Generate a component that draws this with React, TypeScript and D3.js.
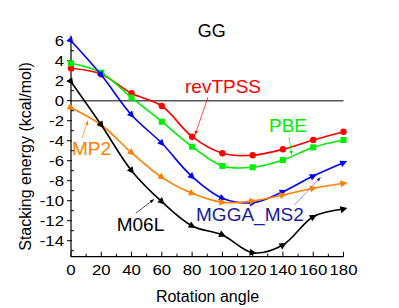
import React from "react";
import * as d3 from "d3";

const angles = [0, 20, 40, 60, 80, 100, 120, 140, 160, 180];
const revTPSS = [3.24, 2.65, 0.74, -0.53, -3.6, -5.26, -5.46, -4.86, -3.93, -3.1];
const PBE = [3.74, 2.8, 0.3, -2.1, -4.6, -6.53, -6.66, -5.93, -4.66, -3.93];
const MGGA_MS2 = [6.0, 2.57, -1.43, -4.26, -7.6, -9.76, -10.2, -9.1, -7.53, -6.2];
const MP2 = [-0.7, -2.43, -5.2, -7.66, -9.26, -10.16, -10.03, -9.43, -8.76, -8.26];
const M06L = [1.9, -2.43, -7.0, -10.1, -12.53, -13.43, -15.2, -14.43, -11.6, -10.83];

const xTicks = [0, 20, 40, 60, 80, 100, 120, 140, 160, 180];
const yTicks = [6, 4, 2, 0, -2, -4, -6, -8, -10, -12, -14];

const series = [
  { name: "revTPSS", values: revTPSS, color: "#ff0000", marker: "circle" },
  { name: "PBE", values: PBE, color: "#00ee00", marker: "square" },
  { name: "MGGA_MS2", values: MGGA_MS2, color: "#0000ff", marker: "tri" },
  { name: "MP2", values: MP2, color: "#ff8000", marker: "tri" },
  { name: "M06L", values: M06L, color: "#000000", marker: "tri" },
];

// label text in data units, arrow from -> to
const labels = [
  { text: "revTPSS", x: 75.3, y: 0.77, color: "#ff0000", ax1: 90.5, ay1: 0.37, ax2: 81.9, ay2: -3.43 },
  { text: "PBE", x: 130.8, y: -3.1, color: "#00ee00", ax1: 144, ay1: -3.63, ax2: 145.8, ay2: -5.43 },
  { text: "MP2", x: 0.6, y: -5.43, color: "#ff8000", ax1: 7.3, ay1: -3.73, ax2: 11.2, ay2: -2.0 },
  { text: "M06L", x: 30.2, y: -13.03, color: "#000000", ax1: 42.7, ay1: -11.26, ax2: 54.8, ay2: -9.86 },
  { text: "MGGA_MS2", x: 82.6, y: -12.03, color: "#1a1aa0", ax1: 147.5, ay1: -10.43, ax2: 164.9, ay2: -7.66 },
];

const W = 399;
const H = 308;

export default function App() {
  const x = d3.scaleLinear().domain([0, 180]).range([71, 343.5]);
  const y = d3.scaleLinear().domain([-15.6, 6.5]).range([256.7, 35.7]);
  const line = d3
    .line<number>()
    .x((_, i) => x(angles[i]))
    .y((d) => y(d))
    .curve(d3.curveCatmullRom.alpha(0.5));

  const font = "Liberation Sans, Arial, sans-serif";
  const minorX = d3.range(0, 181, 10);
  const minorY = d3.range(-15, 7, 1);

  const marker = (s: any, v: number, i: number) => {
    const cx = x(angles[i]);
    const cy = y(v);
    if (s.marker === "circle") return <circle key={i} cx={cx} cy={cy} r={3.2} fill={s.color} />;
    if (s.marker === "square") return <rect key={i} x={cx - 3} y={cy - 3} width={6} height={6} fill={s.color} />;
    // arrow-like triangle pointing along the curve
    const i0 = Math.max(0, i - 1);
    const i1 = Math.min(angles.length - 1, i + 1);
    const dx = x(angles[i1]) - x(angles[i0]);
    const dy = y(s.values[i1]) - y(s.values[i0]);
    const ang = (Math.atan2(dy, dx) * 180) / Math.PI;
    return (
      <path
        key={i}
        d="M4,0 L-3,-3.5 L-3,3.5 Z"
        fill={s.color}
        transform={`translate(${cx},${cy}) rotate(${ang})`}
      />
    );
  };

  return (
    <svg width={W} height={H} style={{ position: "absolute", left: 0, top: 0, background: "#fff" }}>
      <defs>
        {labels.map((l, i) => (
          <marker key={i} id={`ah${i}`} viewBox="0 0 10 10" refX={10} refY={5} markerWidth={6} markerHeight={6} orient="auto">
            <path d="M0,1 L10,5 L0,9 Z" fill={l.color} />
          </marker>
        ))}
      </defs>

      {/* zero line */}
      <line x1={x(0)} x2={x(180)} y1={y(0)} y2={y(0)} stroke="#555" strokeWidth={1.5} />

      {/* axes */}
      <line x1={x(0)} x2={x(180)} y1={y(-15.6)} y2={y(-15.6)} stroke="#000" strokeWidth={1.2} />
      <line x1={x(0)} x2={x(0)} y1={y(-15.6)} y2={y(6.5)} stroke="#000" strokeWidth={1.2} />
      {minorX.map((t) => (
        <line key={"mx" + t} x1={x(t)} x2={x(t)} y1={y(-15.6)} y2={y(-15.6) - (t % 20 === 0 ? 5 : 3)} stroke="#000" />
      ))}
      {minorY.map((t) => (
        <line key={"my" + t} x1={x(0) - (t % 2 === 0 ? 4 : 0)} x2={x(0) + (t % 2 === 0 ? 1 : 3)} y1={y(t)} y2={y(t)} stroke="#000" />
      ))}
      {xTicks.map((t) => (
        <text
          key={"xt" + t}
          transform={`translate(${x(t)},${275}) scale(1.2,1)`}
          textAnchor="middle"
          fontFamily={font}
          fontSize={14}
        >
          {t}
        </text>
      ))}
      {yTicks.map((t) => (
        <text
          key={"yt" + t}
          transform={`translate(${64},${y(t) + 5}) scale(1.2,1)`}
          textAnchor="end"
          fontFamily={font}
          fontSize={14}
        >
          {t}
        </text>
      ))}
      <text x={207.5} y={302} textAnchor="middle" fontFamily={font} fontSize={16}>
        Rotation angle
      </text>
      <text
        transform={`translate(31,156.5) rotate(-90)`}
        textAnchor="middle"
        fontFamily={font}
        fontSize={16}
      >
        Stacking energy (kcal/mol)
      </text>
      <text x={x(92.9)} y={y(6.37)} textAnchor="middle" fontFamily={font} fontSize={18}>
        GG
      </text>

      {/* series */}
      {series.map((s) => (
        <g key={s.name}>
          <path d={line(s.values) || ""} fill="none" stroke={s.color} strokeWidth={1.6} />
          {s.values.map((v, i) => marker(s, v, i))}
        </g>
      ))}

      {/* labels with arrows */}
      {labels.map((l, i) => (
        <g key={l.text}>
          <text x={x(l.x)} y={y(l.y)} fill={l.color} fontFamily={font} fontSize={19}>
            {l.text}
          </text>
          <line
            x1={x(l.ax1)}
            y1={y(l.ay1)}
            x2={x(l.ax2)}
            y2={y(l.ay2)}
            stroke={l.text === "MGGA_MS2" ? "#6a6ad0" : l.color}
            strokeWidth={0.7}
            markerEnd={`url(#ah${i})`}
          />
        </g>
      ))}
    </svg>
  );
}
